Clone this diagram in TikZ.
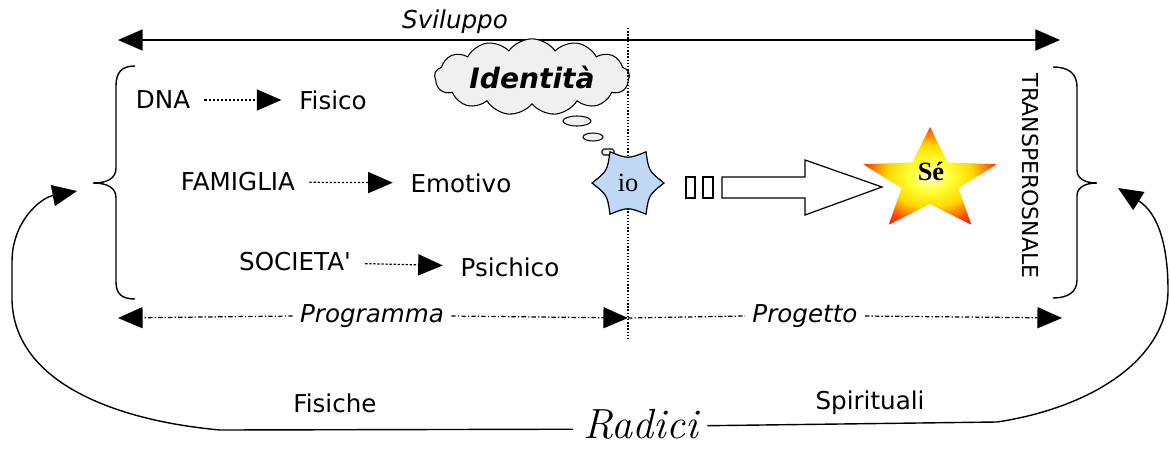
\documentclass[tikz,border=0pt]{standalone}
\usepackage{fontspec}
\usetikzlibrary{arrows.meta,shapes.symbols}
\newfontfamily\sfx{DejaVu Sans}[ItalicFont={DejaVu Sans Oblique},BoldItalicFont={DejaVu Sans Bold Oblique}]
\newfontfamily\serx{Liberation Serif}
\definecolor{ioblue}{RGB}{192,216,246}
\pgfdeclareradialshading{starshade}{\pgfpoint{0bp}{0bp}}{color(0bp)=(yellow!15!white); color(8bp)=(yellow!80!white); color(16bp)=(yellow!70!orange); color(24bp)=(orange!60!red); color(30bp)=(red!90!orange); color(50bp)=(red)}
\begin{document}
\begin{tikzpicture}[x=0.02cm,y=-0.02cm,
  bigtri/.tip={Triangle[length=14pt,width=12pt]},
  txt/.style={font=\sfx\fontsize{14}{16}\selectfont,inner sep=0pt},
  lbl/.style={font=\sfx\itshape\fontsize{14}{16}\selectfont,inner sep=4pt},
  ddash/.style={line width=0.7pt,dash pattern=on 2.5pt off 1.2pt on 0.8pt off 1.2pt,-{bigtri}},
  dsmall/.style={line width=0.7pt,dash pattern=on 1.3pt off 1pt,-{bigtri},shorten <=8pt,shorten >=10pt},
  solidl/.style={line width=0.8pt},
  brace/.style={line width=0.8pt},
  bubble/.style={draw,line width=0.6pt,fill=gray!12},
]
\fill[white] (0,0) rectangle (1170,450);
\useasboundingbox (0,0) rectangle (1170,450);

% Sviluppo
\coordinate (svL) at (118,40);
\coordinate (svR) at (1060,40);
\draw[solidl,{bigtri}-{bigtri}] (svL) -- (svR);
\node[lbl,inner sep=0pt] (svil) at (455,22) {Sviluppo};

% braces
\draw[brace] (135,66) .. controls (122,66) and (116,72) .. (116,86) -- (116,168) .. controls (116,178) and (108,183) .. (93,183) .. controls (108,183) and (116,188) .. (116,198) -- (116,282) .. controls (116,294) and (122,299) .. (135,299);
\draw[brace] (1053,67) .. controls (1068,67) and (1077,73) .. (1077,87) -- (1077,170) .. controls (1077,178) and (1084,183) .. (1097,183) .. controls (1084,183) and (1077,188) .. (1077,196) -- (1077,280) .. controls (1077,292) and (1068,298) .. (1053,298);
\node[font=\sfx\fontsize{12.5}{14}\selectfont,rotate=-90,inner sep=0pt] (trans) at (1030,176) {TRANSPEROSNALE};

% left texts
\node[txt] (dna) at (163,100) {DNA};
\node[txt] (fisico) at (333,100) {Fisico};
\node[txt] (fam) at (238,182) {FAMIGLIA};
\node[txt] (emo) at (461,183) {Emotivo};
\node[txt] (soc) at (295,262) {SOCIETA'};
\node[txt] (psi) at (510,267) {Psichico};
\draw[dsmall] (dna) -- (fisico);
\draw[dsmall] (fam) -- (emo);
\draw[dsmall] (soc) -- (psi);

% cloud
\node[cloud,draw,line width=0.6pt,fill=gray!12,cloud puffs=13,cloud puff arc=110,aspect=3.6,minimum width=3.9cm,minimum height=1.15cm,font=\sfx\bfseries\itshape\fontsize{16}{18}\selectfont] (cloud) at (532,77) {Identità};
\draw[bubble] (577,121) ellipse [x radius=0.28cm,y radius=0.1cm];
\draw[bubble] (593,137) ellipse [x radius=0.2cm,y radius=0.08cm];
\draw[bubble,rounded corners=1pt] (602,149) rectangle (614,155);

% vertical dotted line
\coordinate (vt) at (628,28);
\coordinate (vb) at (628,338);
\draw[line width=0.8pt,densely dotted] (vt) -- (vb);

% io starburst
\begin{scope}[shift={(628,183)}]
\filldraw[fill=ioblue,line width=0.7pt] (0:36) .. controls (30:24) .. (60:36) .. controls (90:24) .. (120:36) .. controls (150:24) .. (180:36) .. controls (210:24) .. (240:36) .. controls (270:24) .. (300:36) .. controls (330:24) .. (360:36) -- cycle;
\end{scope}
\node[font=\serx\fontsize{15}{17}\selectfont,inner sep=0pt] (io) at (628,183) {io};

% small rectangles and block arrow
\draw[fill=white,line width=0.7pt] (686,177) rectangle (695,198);
\draw[fill=white,line width=0.7pt] (703,177) rectangle (713,198);
\draw[fill=white,line width=0.7pt] (722,177) -- (805,177) -- (805,160) -- (882,187) -- (805,215) -- (805,198) -- (722,198) -- cycle;

% star
\begin{scope}[shift={(930,181)},xscale=1.3]
\shade[shading=starshade] (270:54) -- (306:23) -- (342:54) -- (18:23) -- (54:54) -- (90:23) -- (126:54) -- (162:23) -- (198:54) -- (234:23) -- cycle;
\end{scope}
\node[font=\serx\bfseries\fontsize{15}{17}\selectfont,inner sep=0pt] (se) at (931,171) {Sé};

% Programma / Progetto
\coordinate (pgL) at (118,318);
\coordinate (pgM) at (628,318);
\coordinate (pgR) at (1062,318);
\node[lbl] (prog) at (372,316) {Programma};
\node[lbl] (proj) at (805,316) {Progetto};
\draw[ddash] (prog.west) -- (pgL);
\draw[ddash] (prog.east) -- (pgM);
\draw[ddash,-] (pgM) -- (proj.west);
\draw[ddash] (proj.east) -- (pgR);

% bottom
\node[font=\itshape\fontsize{24}{26}\selectfont,inner sep=0pt,anchor=base] (radici) at (641,438) {Radici};
\node[txt] (fisiche) at (335,403) {Fisiche};
\node[txt] (spir) at (870,403) {Spirituali};
\coordinate (ltip) at (77,191);
\coordinate (rtip) at (1118,188);
\draw[solidl,-{bigtri}] ([xshift=-6pt,yshift=5pt]radici.base west) -- (220,430) .. controls (110,420) and (14,380) .. (12,300) -- (12,262) .. controls (12,222) and (40,198) .. (ltip);
\draw[solidl,-{bigtri}] ([xshift=5pt,yshift=7pt]radici.base east) -- (997,422) .. controls (1090,408) and (1168,360) .. (1168,290) .. controls (1168,245) and (1158,213) .. (rtip);
\end{tikzpicture}
\end{document}
